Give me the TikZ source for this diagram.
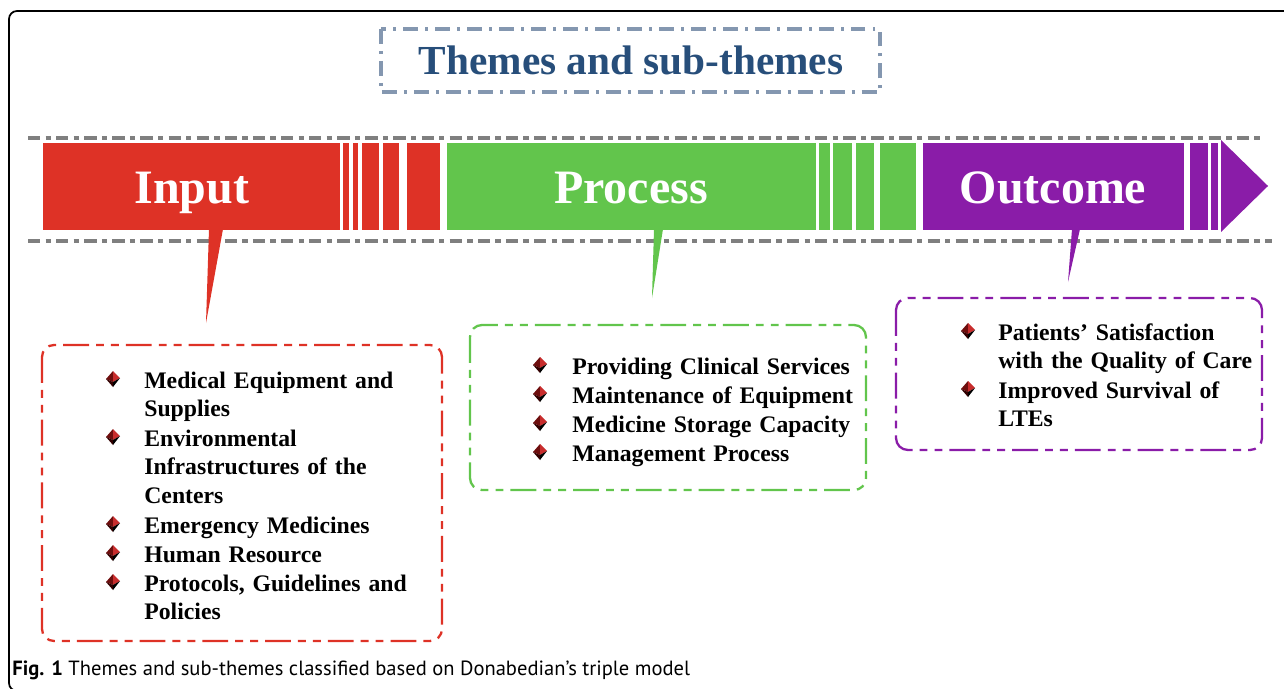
\documentclass[tikz,border=0pt]{standalone}
\usepackage{fontspec}
\setmainfont{Liberation Serif}
\newfontfamily\capfont{PT Sans}

\definecolor{inred}{RGB}{222,50,38}
\definecolor{procgreen}{RGB}{98,197,76}
\definecolor{outpurple}{RGB}{138,28,168}
\definecolor{titleblue}{RGB}{39,78,122}
\definecolor{titleframe}{RGB}{132,151,176}
\definecolor{guide}{RGB}{127,127,127}
\definecolor{markred}{RGB}{200,45,45}
\definecolor{markdark}{RGB}{110,14,14}

\tikzset{
  stage/.style={anchor=base, text=white, font=\fontsize{27.3}{30}\selectfont\bfseries},
  guideline/.style={guide, line width=1.8pt, dash pattern=on 7pt off 3pt on 3pt off 3pt},
  listbox/.style={line width=1.3pt, rounded corners=0.24cm,
    dash pattern=on 14.7pt off 4pt on 4.5pt off 4pt on 4.5pt off 4pt},
  item/.style={anchor=base west, inner sep=0pt, text width=6.5cm, align=left,
    font=\fontsize{13.5}{16.4}\selectfont\bfseries},
  itemmark/.pic={
    \fill[markdark] (0,-8) -- (-7,0) -- (0,3) -- cycle;
    \fill[markred] (0,-8) -- (7,-1) -- (0,3) -- cycle;
    \fill[black!80!red] (-7,0) -- (0,8) -- (0,3) -- cycle;
    \fill[black] (7,-1) -- (0,8) -- (0,3) -- cycle;
  }
}

\begin{document}
\begin{tikzpicture}[x=0.02cm,y=-0.02cm]
\useasboundingbox (0,0) rectangle (1284,689);
\clip (0,0) rectangle (1284,689);
\draw[line width=1pt, rounded corners=0.16cm] (9,11) rectangle (1320,691);

\draw[titleframe, line width=1.8pt, dash pattern=on 8.5pt off 4pt on 1.7pt off 4pt] (381,29) rectangle (880,92);
\node[anchor=base, text=titleblue, font=\fontsize{23.5}{28}\selectfont\bfseries] (title) at (631,75) {Themes and sub-themes};

\draw[guideline] (28,138) -- (1262,138);
\draw[guideline] (28,241) -- (1272,241);

\fill[inred] (43,143) rectangle (340,230);
\foreach \a/\b in {343/349,353/358,362/379,383/399,407/440}
  \fill[inred] (\a,143) rectangle (\b,230);
\fill[procgreen] (447,143) rectangle (816,230);
\foreach \a/\b in {819/830,833/852,856/874,880/916}
  \fill[procgreen] (\a,143) rectangle (\b,230);
\fill[outpurple] (923,143) rectangle (1184,230);
\foreach \a/\b in {1190/1208,1211/1218}
  \fill[outpurple] (\a,143) rectangle (\b,230);
\fill[outpurple] (1221,140) -- (1268,186) -- (1221,232) -- cycle;

\node[stage] (input) at (192,204) {Input};
\node[stage] (process) at (631,204) {Process};
\node[stage] (outcome) at (1053,204) {Outcome};

\coordinate (inputtip) at (206,323);
\coordinate (processtip) at (652,298);
\coordinate (outcometip) at (1068,282);
\fill[inred] (209,229) -- (223,229) -- (inputtip) -- cycle;
\fill[procgreen] (654,229) -- (663,229) -- (processtip) -- cycle;
\fill[outpurple] (1072,229) -- (1080,229) -- (outcometip) -- cycle;

\draw[listbox, inred] (42,345) rectangle (442,641);
\draw[listbox, procgreen] (470,325) rectangle (866,490);
\draw[listbox, outpurple] (896,298) rectangle (1262,450);

\foreach \y in {388,446,533,562,591}
  \pic at (113,\y-9) {itemmark};
\node[item] (equipment) at (144,388) {Medical Equipment and\\Supplies};
\node[item] (environment) at (144,446) {Environmental\\Infrastructures of the\\Centers};
\node[item] (emergency) at (144,533) {Emergency Medicines};
\node[item] (human) at (144,562) {Human Resource};
\node[item] (protocols) at (144,591) {Protocols, Guidelines and\\Policies};

\foreach \y in {374,403,432,461}
  \pic at (540,\y-9) {itemmark};
\node[item] (clinical) at (572,374) {Providing Clinical Services};
\node[item] (maintenance) at (572,403) {Maintenance of Equipment};
\node[item] (storage) at (572,432) {Medicine Storage Capacity};
\node[item] (management) at (572,461) {Management Process};

\foreach \y in {340,398}
  \pic at (968,\y-9) {itemmark};
\node[item] (satisfaction) at (998,340) {Patients’ Satisfaction\\with the Quality of Care};
\node[item] (survival) at (998,398) {Improved Survival of\\LTEs};

\node[anchor=base west, inner sep=0pt, font=\capfont\fontsize{11.7}{14}\selectfont] (caption) at (12,675)
  {\textbf{Fig. 1} Themes and sub-themes classified based on Donabedian’s triple model};
\end{tikzpicture}
\end{document}
